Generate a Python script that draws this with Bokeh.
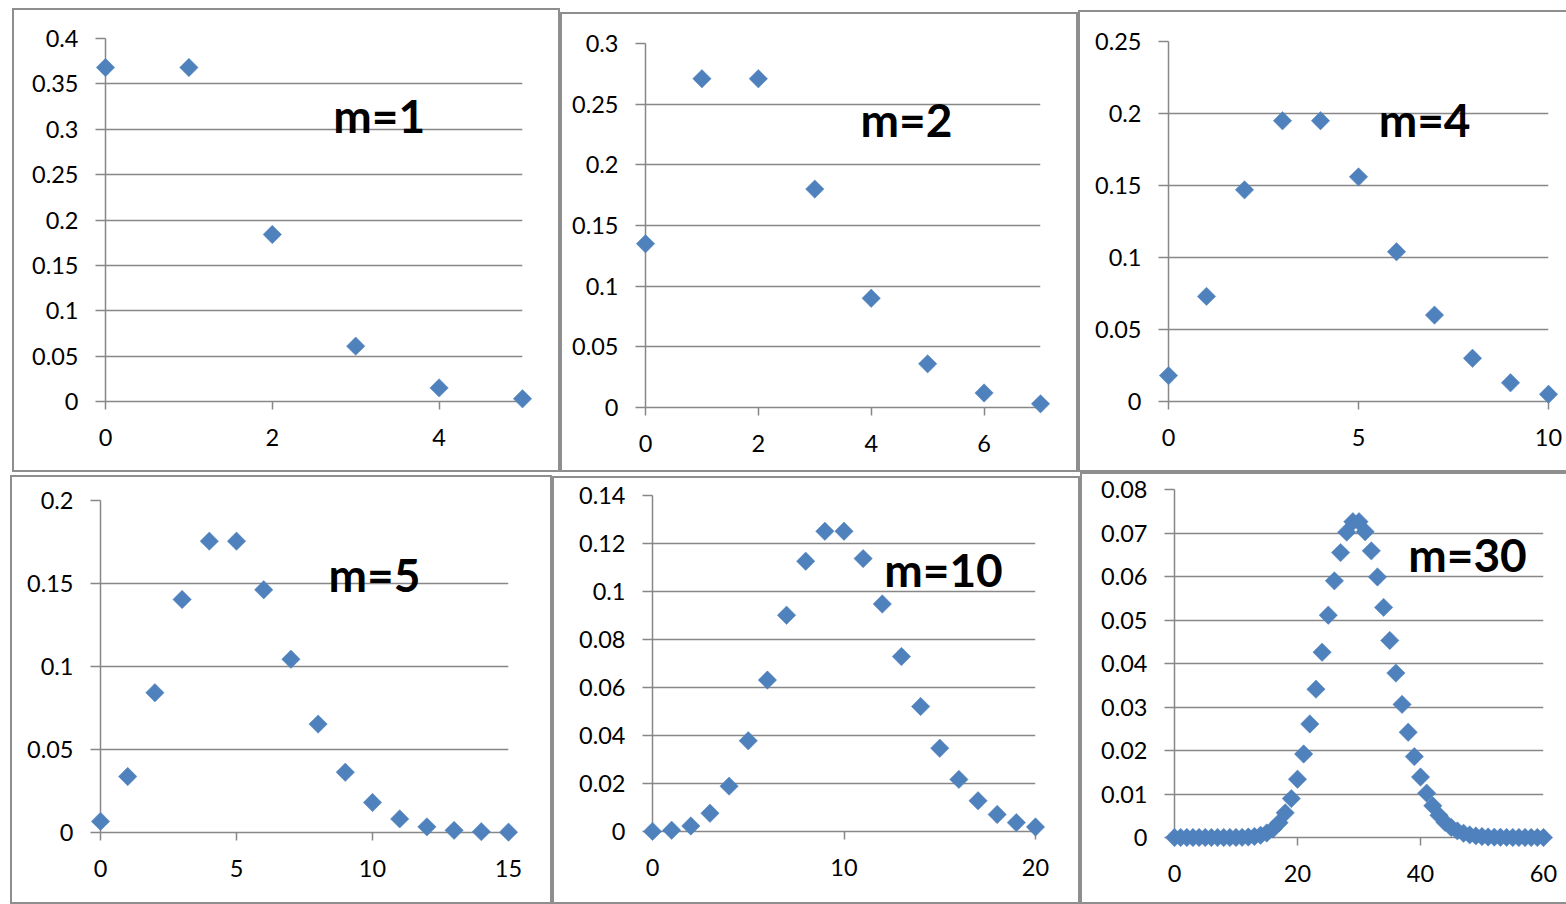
import math
from bokeh.plotting import figure
from bokeh.layouts import column, row
from bokeh.models import Range1d, FixedTicker, CustomJSTickFormatter, Label, Spacer
from bokeh.embed import file_html
from bokeh.resources import INLINE

# ---------------- data ----------------
M1_X = [0, 1, 2, 3, 4, 5]
M1_P = [0.368, 0.368, 0.184, 0.061, 0.015, 0.003]

M2_X = [0, 1, 2, 3, 4, 5, 6, 7]
M2_P = [0.135, 0.271, 0.271, 0.180, 0.090, 0.036, 0.012, 0.003]

M4_X = list(range(0, 11))
M4_P = [0.018, 0.073, 0.147, 0.195, 0.195, 0.156, 0.104, 0.060, 0.030, 0.013, 0.005]

M5_X = list(range(0, 16))
M5_P = [0.0067, 0.0337, 0.0842, 0.1404, 0.1755, 0.1755, 0.1462, 0.1044,
        0.0653, 0.0363, 0.0181, 0.0082, 0.0034, 0.0013, 0.0005, 0.0002]

M10_X = list(range(0, 21))
M10_P = [0.00005, 0.0005, 0.0023, 0.0076, 0.0189, 0.0378, 0.0631, 0.0901,
         0.1126, 0.1251, 0.1251, 0.1137, 0.0948, 0.0729, 0.0521, 0.0347,
         0.0217, 0.0128, 0.0071, 0.0037, 0.0019]

M30_X = list(range(0, 61))
M30_P = [0.0, 0.0, 0.0, 0.0, 0.0, 0.0, 0.0, 0.0000003, 0.0000015, 0.0000051,
         0.0000153, 0.0000416, 0.000104, 0.000240, 0.000514, 0.00103, 0.00193,
         0.00340, 0.00567, 0.00895, 0.0134, 0.0192, 0.0261, 0.0341, 0.0426,
         0.0511, 0.0590, 0.0655, 0.0702, 0.0726, 0.0726, 0.0703, 0.0659,
         0.0599, 0.0529, 0.0453, 0.0378, 0.0306, 0.0242, 0.0186, 0.0139,
         0.0102, 0.00729, 0.00509, 0.00347, 0.00231, 0.00151, 0.000963,
         0.000602, 0.000369, 0.000221, 0.000130, 0.0000751, 0.0000425,
         0.0000236, 0.0000129, 0.0000069, 0.0000036, 0.0000019, 0.0000010,
         0.0000005]

M1_XTICKS = [0, 2, 4]
M2_XTICKS = [0, 2, 4, 6]
M4_XTICKS = [0, 5, 10]
M5_XTICKS = [0, 5, 10, 15]
M10_XTICKS = [0, 10, 20]
M30_XTICKS = [0, 20, 40, 60]

M1_YTICKS = [0, 0.05, 0.1, 0.15, 0.2, 0.25, 0.3, 0.35, 0.4]
M2_YTICKS = [0, 0.05, 0.1, 0.15, 0.2, 0.25, 0.3]
M4_YTICKS = [0, 0.05, 0.1, 0.15, 0.2, 0.25]
M5_YTICKS = [0, 0.05, 0.1, 0.15, 0.2]
M10_YTICKS = [0, 0.02, 0.04, 0.06, 0.08, 0.1, 0.12, 0.14]
M30_YTICKS = [0, 0.01, 0.02, 0.03, 0.04, 0.05, 0.06, 0.07, 0.08]

LABELS = ["m=1", "m=2", "m=4", "m=5", "m=10", "m=30"]

# ---------------- styling ----------------
GRAY = "#878787"
BORDER = "#8e8e8e"
BLUE = "#4F81BD"
FONT = "Lato"
BW = 2  # panel border width (px)


def panel(xs, ps, xticks, yticks, label, w, h, bl, br, bt, bb, lx, ly, right_border=True):
    rb = BW if right_border else 0
    p = figure(width=w - BW - rb, height=h - 2 * BW,
               x_range=Range1d(0, max(xs)), y_range=Range1d(0, max(yticks)),
               output_backend="svg", toolbar_location=None,
               min_border_left=bl - BW, min_border_right=br - rb,
               min_border_top=bt - BW, min_border_bottom=bb - BW,
               background_fill_color="white", border_fill_color="white")
    p.outline_line_color = None
    p.xgrid.visible = False
    p.ygrid.grid_line_color = GRAY
    p.ygrid.grid_line_width = 1.5
    p.ygrid.ticker = FixedTicker(ticks=yticks)

    fmt = CustomJSTickFormatter(code="return String(Number(tick.toFixed(6)))")
    for ax, ticks in ((p.xaxis[0], xticks), (p.yaxis[0], yticks)):
        ax.ticker = FixedTicker(ticks=ticks, minor_ticks=[])
        ax.formatter = fmt
        ax.axis_line_color = GRAY
        ax.axis_line_width = 1.5
        ax.major_tick_line_color = GRAY
        ax.major_tick_line_width = 1.5
        ax.minor_tick_line_color = None
        ax.major_tick_in = 0
        ax.major_label_text_font = FONT
        ax.major_label_text_font_size = "23.5px"
        ax.major_label_text_color = "black"
    p.yaxis[0].major_tick_out = 10
    p.yaxis[0].major_label_standoff = 17
    p.xaxis[0].major_tick_out = 8
    p.xaxis[0].major_label_standoff = 19

    r = p.scatter(xs, ps, marker="square", angle=math.pi / 4, size=13,
                  fill_color=BLUE, line_color=BLUE, line_width=0.5)
    r.level = "overlay"

    p.add_layout(Label(x=lx, y=ly, text=label, text_font=FONT,
                       text_font_style="bold", text_font_size="46px",
                       text_color="black", text_baseline="alphabetic"))

    line = f"{BW}px solid {BORDER}"
    styles = {"border-top": line, "border-left": line, "border-bottom": line,
              "border-right": line if right_border else "none"}
    return column(p, spacing=0, styles=styles)


def shifted(p, dy):
    if dy <= 0:
        return p
    return column(Spacer(height=dy, width=10), p, spacing=0)


p1 = panel(M1_X, M1_P, M1_XTICKS, M1_YTICKS, LABELS[0], 548, 464, 93, 38, 30, 71, 2.73, 0.315)
p2 = panel(M2_X, M2_P, M2_XTICKS, M2_YTICKS, LABELS[1], 518, 460, 85, 38, 31, 65, 3.81, 0.237)
p3 = panel(M4_X, M4_P, M4_XTICKS, M4_YTICKS, LABELS[2], 488, 462, 90, 18, 31, 71, 5.53, 0.1955,
           right_border=False)
p4 = panel(M5_X, M5_P, M5_XTICKS, M5_YTICKS, LABELS[3], 542, 429, 90, 44, 25, 72, 8.38, 0.1554)
p5 = panel(M10_X, M10_P, M10_XTICKS, M10_YTICKS, LABELS[4], 528, 428, 100, 45, 19, 73, 12.1, 0.1092)
p6 = panel(M30_X, M30_P, M30_XTICKS, M30_YTICKS, LABELS[5], 486, 432, 94, 23, 17, 67, 38.0, 0.0650,
           right_border=False)

top_row = row(Spacer(width=12, height=464), shifted(p1, 0), shifted(p2, 4), shifted(p3, 2), spacing=0)
bottom_row = row(Spacer(width=10, height=432), shifted(p4, 3), shifted(p5, 4), shifted(p6, 0), spacing=0)

layout = column(Spacer(height=8, width=1566), top_row, bottom_row, spacing=0)

open("out.html", "w").write(file_html(layout, INLINE))
